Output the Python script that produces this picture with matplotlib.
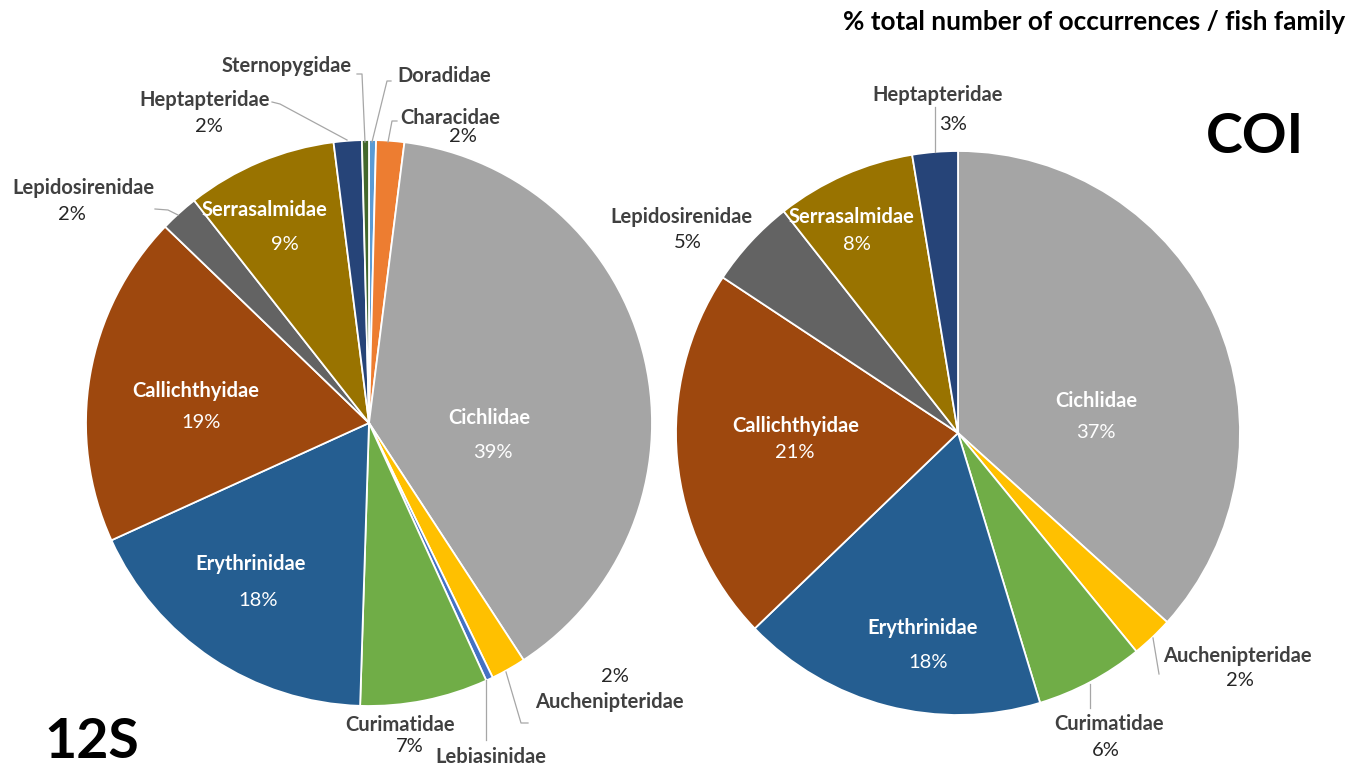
import matplotlib
matplotlib.use('Agg')
import matplotlib.pyplot as plt

plt.rcParams['font.family'] = ['Lato', 'DejaVu Sans']

# data: % of occurrences per fish family, in slice order (clockwise from 12 o'clock)
fams_12s = ['Doradidae', 'Characidae', 'Cichlidae', 'Auchenipteridae', 'Lebiasinidae',
            'Curimatidae', 'Erythrinidae', 'Callichthyidae', 'Lepidosirenidae',
            'Serrasalmidae', 'Heptapteridae', 'Sternopygidae']
vals_12s = [0.4, 1.6, 38.8, 2.0, 0.4, 7.3, 17.7, 19.0, 2.2, 8.6, 1.6, 0.4]

fams_coi = ['Cichlidae', 'Auchenipteridae', 'Curimatidae', 'Erythrinidae',
            'Callichthyidae', 'Lepidosirenidae', 'Serrasalmidae', 'Heptapteridae']
vals_coi = [36.7, 2.4, 6.2, 17.51, 21.49, 5.1, 8.0, 2.6]

# families too small to get a percentage label
no_pct = ['Doradidae', 'Lebiasinidae', 'Sternopygidae']

colors = {
    'Cichlidae': '#A5A5A5', 'Auchenipteridae': '#FFC000', 'Curimatidae': '#70AD47',
    'Erythrinidae': '#255E91', 'Callichthyidae': '#9E480E', 'Lepidosirenidae': '#636363',
    'Serrasalmidae': '#997300', 'Heptapteridae': '#264478', 'Characidae': '#ED7D31',
    'Doradidae': '#5B9BD5', 'Sternopygidae': '#43682B', 'Lebiasinidae': '#4472C4',
}

W, H = 1362, 768

def Y(y):
    # pixel row -> axes y
    return H - y

# label layout (pixel coords): name pos, pct pos, inside?, leader line points
lab_12s = {
    'Cichlidae': ((489, 418), (493, 452), True, None),
    'Callichthyidae': ((196, 391), (201, 423), True, None),
    'Erythrinidae': ((251, 564), (258, 600), True, None),
    'Serrasalmidae': ((265, 210), (285, 245), True, None),
    'Sternopygidae': ((287, 66), None, False, [(357, 74), (362, 74), (365, 142)]),
    'Doradidae': ((444, 76), None, False, [(391, 81), (387, 81), (372, 142)]),
    'Characidae': ((450, 118), (463, 136), False, [(397, 121), (392, 121), (388, 142)]),
    'Heptapteridae': ((205, 100), (209, 127), False, [(272, 102), (280, 104), (347, 140)]),
    'Lepidosirenidae': ((83, 188), (72, 214), False, [(155, 209), (168, 210), (178, 215)]),
    'Auchenipteridae': ((609, 702), (615, 677), False, [(528, 723), (521, 723), (506, 672)]),
    'Lebiasinidae': ((491, 757), None, False, [(486, 740), (486, 680)]),
    'Curimatidae': ((400, 725), (410, 746), False, None),
}
lab_coi = {
    'Cichlidae': ((1096, 401), (1096, 433), True, None),
    'Callichthyidae': ((796, 426), (795, 452), True, None),
    'Erythrinidae': ((923, 628), (928, 662), True, None),
    'Serrasalmidae': ((852, 217), (857, 245), True, None),
    'Heptapteridae': ((938, 95), (953, 125), False, [(935, 107), (935, 152)]),
    'Lepidosirenidae': ((681, 217), (688, 243), False, None),
    'Auchenipteridae': ((1237, 656), (1240, 681), False, [(1159, 674), (1153, 638)]),
    'Curimatidae': ((1109, 724), (1106, 750), False, [(1090, 708), (1090, 684)]),
}

fig = plt.figure(figsize=(W / 100, H / 100), dpi=100)
ax = fig.add_axes([0, 0, 1, 1])


def draw_pie(fams, vals, center, radius, labels):
    ax.pie(vals, colors=[colors[f] for f in fams], startangle=90, counterclock=False,
           center=(center[0], Y(center[1])), radius=radius,
           wedgeprops=dict(edgecolor='white', linewidth=1.3))
    total = sum(vals)
    for f, v in zip(fams, vals):
        npos, ppos, inside, leader = labels[f]
        name_c = 'white' if inside else '#404040'
        pct_c = 'white' if inside else '#262626'
        ax.text(npos[0], Y(npos[1]), f, ha='center', va='center', fontsize=14.5,
                fontweight='bold', color=name_c)
        if ppos is not None and f not in no_pct:
            ax.text(ppos[0], Y(ppos[1]), '%d%%' % round(100 * v / total), ha='center',
                    va='center', fontsize=14.5, color=pct_c)
        if leader:
            ax.plot([p[0] for p in leader], [Y(p[1]) for p in leader], color='#A6A6A6',
                    lw=0.9)


draw_pie(fams_12s, vals_12s, (369, 423), 283, lab_12s)
draw_pie(fams_coi, vals_coi, (958, 433), 282, lab_coi)

ax.text(1345, Y(22), '% total number of occurrences / fish family', ha='right',
        va='center', fontsize=18.8, fontweight='bold', color='black')
ax.text(1255, Y(137), 'COI', ha='center', va='center', fontsize=40, fontweight='bold',
        color='black')
ax.text(92, Y(742), '12S', ha='center', va='center', fontsize=40, fontweight='bold',
        color='black')

ax.set_xlim(0, W)
ax.set_ylim(0, H)
ax.axis('off')

fig.savefig('out.png', dpi=100, facecolor='white')
